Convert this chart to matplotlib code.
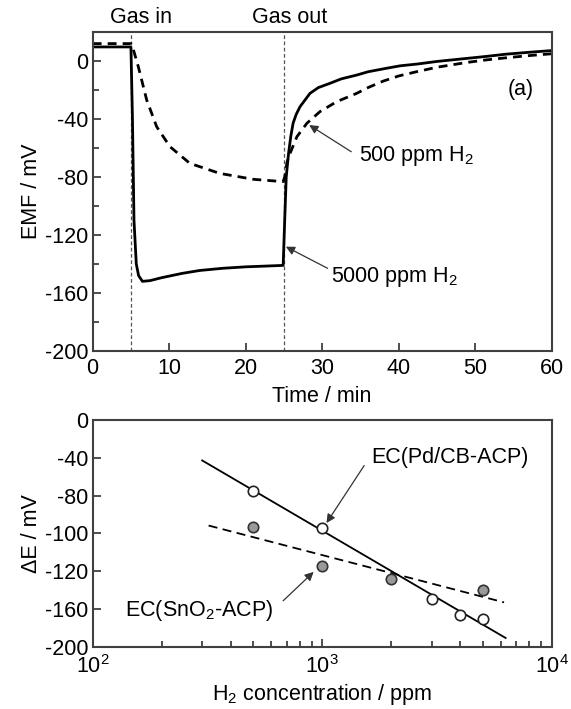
import numpy as np
import matplotlib
matplotlib.use("Agg")
import matplotlib.pyplot as plt
from matplotlib.ticker import FixedLocator, MultipleLocator, LogLocator, NullFormatter

plt.rcParams["font.family"] = ["Liberation Sans", "DejaVu Sans"]
plt.rcParams["mathtext.default"] = "regular"
plt.rcParams["axes.unicode_minus"] = False
plt.rcParams["font.size"] = 15.5

# (a) EMF transients
t_5000 = [0, 5.0, 5.2, 5.4, 5.7, 6.0, 6.5, 7.5, 9, 11.7, 14, 17, 20, 22.5, 24.9,
          25.1, 25.3, 25.6, 25.9, 26.2, 26.6, 27.1, 28.4, 29.5, 31.0, 32.5, 34.5, 36, 38.4,
          40.2, 42.4, 45, 48.9, 51.5, 54, 57, 60]
emf_5000 = [9.5, 9.5, -40, -110, -140, -148, -152, -151.5, -149.5, -146.5, -144.5, -143, -142, -141.5, -141,
            -110, -80, -64, -52, -43, -37, -31.7, -22.5, -18.5, -15.6, -12.5, -9.9, -7.6, -5.2,
            -3.5, -2.3, -0.5, 1.6, 3, 4.5, 5.8, 7]
t_500 = [0, 5.0, 5.3, 5.96, 7.06, 8.37, 10.1, 12.7, 16.6, 21, 24.9,
         25.1, 25.4, 25.8, 26.7, 28, 29.7, 31.9, 34.5, 36, 38, 40, 42.4, 45, 48.9, 51.5, 54, 57, 60]
emf_500 = [11.8, 11.8, 8, -4, -27, -45.5, -59.2, -70.7, -77.6, -81.7, -83.3,
           -80, -70, -63.8, -52.3, -43.1, -35.1, -28.2, -22.5, -18.5, -14, -10.5, -7.5, -4.5, -1.2, 0.6, 2, 3.5, 4.8]
gas_times = [5, 25]

# (b) response vs concentration
conc_pd = [500, 1000, 3000, 4000, 5000]
de_pd = [-62.5, -95.3, -157.5, -172.4, -175.4]
conc_sn = [500, 1000, 2000, 5000]
de_sn = [-94.7, -128.4, -140.5, -149.9]
fit_range_pd = [300, 6300]
fit_range_sn = [320, 6200]
ytick_labels_b = ["0", "-40", "-80", "-100", "-120", "-160", "-200"]

spine_c = "#404040"

fig = plt.figure(figsize=(5.71, 7.09), dpi=100)
ax1 = fig.add_axes([0.1623, 0.5049, 0.8039, 0.4504])
ax2 = fig.add_axes([0.1623, 0.0879, 0.8039, 0.3197])

for ax in (ax1, ax2):
    for s in ax.spines.values():
        s.set_color(spine_c)
        s.set_linewidth(1.5)
    ax.tick_params(which="both", direction="in", color=spine_c, width=1.3, top=False, right=False, pad=3)
    ax.tick_params(which="major", length=6)
    ax.tick_params(which="minor", length=4)

# top panel
for gt in gas_times:
    ax1.axvline(gt, color="#555555", lw=0.9, ls=(0, (3, 2)))
ax1.plot(t_5000, emf_5000, color="black", lw=2.0)
ax1.plot(t_500, emf_500, color="black", lw=2.0, ls=(0, (3.2, 2.2)))
ax1.set_xlim(0, 60)
ax1.set_ylim(-200, 20)
ax1.xaxis.set_major_locator(MultipleLocator(10))
ax1.yaxis.set_major_locator(MultipleLocator(40))
ax1.yaxis.set_minor_locator(MultipleLocator(20))
ax1.tick_params(axis="x", pad=5)
ax1.set_xlabel("Time / min", labelpad=5)
ax1.set_ylabel("EMF / mV", labelpad=2)

ax1.text(6.3, 30, "Gas in", ha="center", va="center", clip_on=False)
ax1.text(25.8, 30, "Gas out", ha="center", va="center", clip_on=False)
ax1.text(56, -19.7, "(a)", ha="center", va="center")
arrow = dict(arrowstyle="-|>", color="#333333", lw=0.9, mutation_scale=13, shrinkA=0, shrinkB=0)
ax1.annotate("", xy=(28.3, -44.3), xytext=(33.8, -62.7), arrowprops=arrow)
ax1.text(34.8, -65.4, "500 ppm H$_2$", ha="left", va="center")
ax1.annotate("", xy=(25.25, -128.1), xytext=(30.7, -143), arrowprops=arrow)
ax1.text(31.2, -148.8, "5000 ppm H$_2$", ha="left", va="center")

# bottom panel
p_pd = np.polyfit(np.log10(conc_pd), de_pd, 1)
p_sn = np.polyfit(np.log10(conc_sn), de_sn, 1)
ax2.plot(fit_range_pd, np.polyval(p_pd, np.log10(fit_range_pd)), color="black", lw=1.3)
ax2.plot(fit_range_sn, np.polyval(p_sn, np.log10(fit_range_sn)), color="black", lw=1.3, ls=(0, (5, 3)))
ax2.plot(conc_pd, de_pd, "o", ms=7.5, mfc="white", mec="#222222", mew=1.2)
ax2.plot(conc_sn, de_sn, "o", ms=7.5, mfc="#999999", mec="#333333", mew=1.2)
ax2.set_xscale("log")
ax2.set_xlim(100, 10000)
ax2.set_ylim(-200, 0)
ax2.xaxis.set_major_locator(LogLocator(base=10))
ax2.xaxis.set_minor_locator(LogLocator(base=10, subs=np.arange(2, 10)))
ax2.xaxis.set_minor_formatter(NullFormatter())
ax2.yaxis.set_major_locator(FixedLocator(np.linspace(0, -200, 7)))
ax2.set_yticklabels(ytick_labels_b)
ax2.tick_params(axis="x", which="major", pad=6)
ax2.set_xlabel("H$_2$ concentration / ppm", labelpad=3)
ax2.set_ylabel("ΔE / mV", labelpad=2)

ax2.annotate("", xy=(1044, -90.9), xytext=(1524, -40.2), arrowprops=arrow)
ax2.text(1637, -33.4, "EC(Pd/CB-ACP)", ha="left", va="center")
ax2.annotate("", xy=(918, -134), xytext=(676, -159.5), arrowprops=arrow)
ax2.text(139, -167.7, "EC(SnO$_2$-ACP)", ha="left", va="center")

fig.savefig("out.png", dpi=100)
